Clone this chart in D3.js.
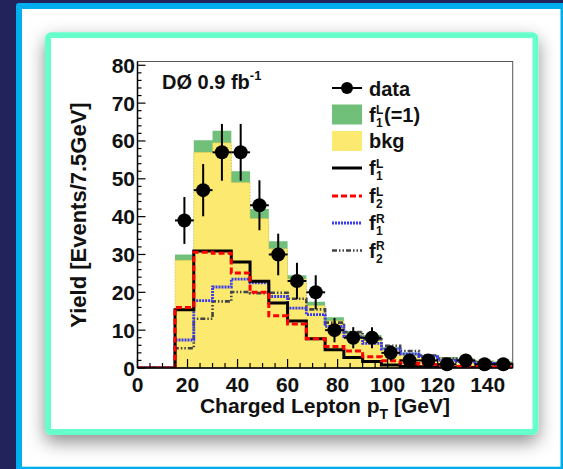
<!DOCTYPE html>
<html>
<head>
<meta charset="utf-8">
<script src="https://cdn.jsdelivr.net/npm/d3@7"></script>
<style>
  html, body { margin: 0; padding: 0; background: #23235c; }
  svg { display: block; }
  text { font-family: "Liberation Sans", Arial, Helvetica, sans-serif; font-weight: bold; fill: #111; }
</style>
</head>
<body>
<svg id="chart" width="563" height="469"></svg>
<script>
// Lower edges of the 7.5 GeV bins in charged-lepton pT
const binLow = [0, 7.5, 15, 22.5, 30, 37.5, 45, 52.5, 60, 67.5, 75, 82.5, 90, 97.5, 105, 112.5, 120, 127.5, 135, 142.5];
const binHigh = 150;

// Stacked expectation: background plus f1L(=1) signal
const bkg    = [0, 0, 28.5, 57, 59.5, 49, 39.5, 31.5, 23.5, 16.5, 12.5, 9, 8, 5, 3.6, 3.2, 2.6, 2.2, 1.8, 1.5];
const sigF1L = [0, 0, 1.5, 3.2, 3.2, 3, 2.5, 2, 1, 1, 0.9, 0.8, 0.7, 0.5, 0.4, 0.3, 0.3, 0.3, 0.2, 0.2];

// Signal templates for the four couplings
const f1L = [0, 0, 15.4, 30.9, 30.9, 28.0, 22.9, 17.2, 12.4, 7.7, 4.8, 2.8, 1.7, 0.8, 0.4, 0.3, 0.2, 0.1, 0.1, 0.1];
const f2L = [0, 0, 16.0, 30.6, 30.3, 25.1, 20.0, 13.8, 11.6, 7.7, 5.7, 4.5, 3.0, 1.9, 1.2, 0.9, 0.6, 0.4, 0.3, 0.2];
const f1R = [0, 0, 7.4, 17.8, 21.4, 23.5, 22.5, 18.9, 15.8, 14.1, 11.0, 8.3, 6.5, 5.0, 3.7, 3.0, 2.1, 1.7, 1.2, 0.9];
const f2R = [0, 0, 5.2, 13.0, 17.6, 20.1, 19.8, 19.9, 18.3, 15.5, 12.0, 9.5, 7.6, 5.9, 4.5, 3.3, 2.5, 2.0, 1.5, 1.2];

// Observed events (bin centres, counts, statistical errors)
const dataX   = [18.75, 26.25, 33.75, 41.25, 48.75, 56.25, 63.75, 71.25, 78.75, 86.25, 93.75, 101.25, 108.75, 116.25, 123.75, 131.25, 138.75, 146.25];
const dataY   = [39, 47, 57, 57, 43, 30, 23, 20, 10, 8, 8, 4, 2, 2, 1, 2, 1, 1];
const dataErr = [6.2, 6.9, 7.5, 7.5, 6.6, 5.5, 4.8, 4.5, 3.2, 2.8, 2.8, 2.0, 1.4, 1.4, 1.0, 1.4, 1.0, 1.0];
const dataHalfWidth = 3.75;

const xTicks = [0, 20, 40, 60, 80, 100, 120, 140];
const yTicks = [0, 10, 20, 30, 40, 50, 60, 70, 80];

const svg = d3.select("#chart");

// ---- page frame ----
const defs = svg.append("defs");
const sh = defs.append("filter").attr("id", "shadow")
  .attr("x", "-20%").attr("y", "-20%").attr("width", "140%").attr("height", "140%");
sh.append("feDropShadow").attr("dx", 0).attr("dy", 7).attr("stdDeviation", 9)
  .attr("flood-color", "#000").attr("flood-opacity", 0.45);

svg.append("rect").attr("width", 563).attr("height", 469).attr("fill", "#23235c");
svg.append("rect").attr("x", 16).attr("y", 3).attr("width", 560).attr("height", 480)
  .attr("rx", 3).attr("fill", "#00adee");
svg.append("rect").attr("x", 22).attr("y", 9).attr("width", 538.5).attr("height", 457.7)
  .attr("fill", "#ffffff");
svg.append("rect").attr("x", 48).attr("y", 35.3).attr("width", 487.3).attr("height", 396.7)
  .attr("rx", 3).attr("fill", "#ffffff").attr("stroke", "#66ffcc").attr("stroke-width", 6)
  .attr("filter", "url(#shadow)");
svg.append("rect").attr("x", 51).attr("y", 38.3).attr("width", 481.3).attr("height", 390.7)
  .attr("fill", "#ffffff");

// ---- scales ----
const x = d3.scaleLinear().domain([0, 150]).range([137.5, 512.7]);
const y = d3.scaleLinear().domain([0, 81]).range([368, 61.5]);

const g = svg.append("g");
g.append("defs").append("clipPath").attr("id", "plotClip")
  .append("rect").attr("x", x(0)).attr("y", y(81)).attr("width", x(150) - x(0)).attr("height", y(0) - y(81));

// step points: each bin's low edge plus a closing point at the upper edge
function steps(vals) {
  const pts = binLow.map((lo, i) => [lo, vals[i]]);
  pts.push([binHigh, vals[vals.length - 1]]);
  return pts;
}
const stepLine = d3.line().x(d => x(d[0])).y(d => y(d[1])).curve(d3.curveStepAfter);
const stepArea = d3.area().x(d => x(d[0])).y0(y(0)).y1(d => y(d[1])).curve(d3.curveStepAfter);

const plot = g.append("g").attr("clip-path", "url(#plotClip)");

const total = bkg.map((b, i) => b + sigF1L[i]);
plot.append("path").attr("d", stepArea(steps(total))).attr("fill", "#70c07a");
plot.append("path").attr("d", stepArea(steps(bkg))).attr("fill", "#fce96f");
plot.append("path").attr("d", stepLine(steps(bkg))).attr("fill", "none")
  .attr("stroke", "#d8b94a").attr("stroke-width", 1).attr("stroke-dasharray", "1,2");

const templates = [
  { vals: f2R, color: "#444444", dash: "5,2,1.5,2,1.5,2", width: 2.6 },
  { vals: f1R, color: "#3a3aee", dash: "2,1", width: 2.8 },
  { vals: f1L, color: "#000000", dash: null, width: 3 },
  { vals: f2L, color: "#ff0000", dash: "6,3", width: 3 }
];
templates.forEach(t => {
  plot.append("path").attr("d", stepLine(steps(t.vals))).attr("fill", "none")
    .attr("stroke", t.color).attr("stroke-width", t.width)
    .attr("stroke-dasharray", t.dash);
});

// ---- axes (ticks inside the frame) ----
const ax = g.append("g").attr("stroke", "#000");
ax.append("rect").attr("x", x(0)).attr("y", y(81)).attr("width", x(150) - x(0)).attr("height", y(0) - y(81))
  .attr("fill", "none").attr("stroke", "#555").attr("stroke-width", 1);
ax.append("line").attr("x1", x(0)).attr("x2", x(150)).attr("y1", y(0)).attr("y2", y(0)).attr("stroke-width", 1.5);
ax.append("line").attr("x1", x(0)).attr("x2", x(0)).attr("y1", y(0)).attr("y2", y(81)).attr("stroke-width", 1.5);

d3.range(0, 151, 5).forEach(v => {
  const major = v % 20 === 0;
  ax.append("line").attr("x1", x(v)).attr("x2", x(v))
    .attr("y1", y(0)).attr("y2", y(0) - (major ? 9 : 5)).attr("stroke-width", 1.2);
});
d3.range(0, 81, 2).forEach(v => {
  const major = v % 10 === 0;
  ax.append("line").attr("x1", x(0)).attr("x2", x(0) + (major ? 8 : 4))
    .attr("y1", y(v)).attr("y2", y(v)).attr("stroke-width", 1.2);
});

g.selectAll(".xt").data(xTicks).join("text").attr("class", "xt")
  .attr("x", d => x(d)).attr("y", 392).attr("text-anchor", "middle")
  .attr("font-size", 21).text(d => d);
g.selectAll(".yt").data(yTicks).join("text").attr("class", "yt")
  .attr("x", 135).attr("y", d => y(d) + 7.5).attr("text-anchor", "end")
  .attr("font-size", 21).text(d => d);

// axis titles
const xt = g.append("text").attr("x", 450).attr("y", 413).attr("text-anchor", "end").attr("font-size", 21);
xt.append("tspan").text("Charged Lepton p");
xt.append("tspan").attr("font-size", 14).attr("dy", 6).text("T");
xt.append("tspan").attr("dy", -6).text(" [GeV]");

g.append("text").attr("transform", "translate(86,215) rotate(-90)").attr("text-anchor", "middle")
  .attr("font-size", 22).text("Yield [Events/7.5GeV]");

// experiment label
const lab = g.append("text").attr("x", 162).attr("y", 89).attr("font-size", 20);
lab.append("tspan").text("DØ 0.9 fb");
lab.append("tspan").attr("font-size", 13).attr("dy", -9).text("-1");

// ---- data points ----
const pts = g.append("g");
dataX.forEach((xv, i) => {
  const yv = dataY[i], e = dataErr[i];
  pts.append("line").attr("x1", x(xv)).attr("x2", x(xv)).attr("y1", y(yv - e)).attr("y2", y(yv + e))
    .attr("stroke", "#000").attr("stroke-width", 2);
  pts.append("line").attr("x1", x(xv - dataHalfWidth)).attr("x2", x(xv + dataHalfWidth)).attr("y1", y(yv)).attr("y2", y(yv))
    .attr("stroke", "#000").attr("stroke-width", 2);
  pts.append("circle").attr("cx", x(xv)).attr("cy", y(yv)).attr("r", 7).attr("fill", "#000");
});

// ---- legend ----
const lg = g.append("g");
const lx0 = 332, lx1 = 362, tx = 369;
const rows = [88, 114.5, 141, 168, 196, 223, 250.5];

lg.append("line").attr("x1", lx0).attr("x2", lx1).attr("y1", rows[0]).attr("y2", rows[0]).attr("stroke", "#000").attr("stroke-width", 2);
lg.append("circle").attr("cx", (lx0 + lx1) / 2).attr("cy", rows[0]).attr("r", 6).attr("fill", "#000");
lg.append("text").attr("x", tx).attr("y", rows[0] + 8).attr("font-size", 20).text("data");

lg.append("rect").attr("x", lx0).attr("y", rows[1] - 10).attr("width", lx1 - lx0).attr("height", 20).attr("fill", "#70c07a");
lg.append("rect").attr("x", lx0).attr("y", rows[2] - 10).attr("width", lx1 - lx0).attr("height", 20).attr("fill", "#fce96f");
lg.append("text").attr("x", tx).attr("y", rows[2] + 7).attr("font-size", 20).text("bkg");

// "f" with a stacked superscript and subscript, as one text element
function fLabel(yc, sup, sub, tail) {
  const t = lg.append("text").attr("x", tx).attr("y", yc + 7).attr("font-size", 20);
  t.append("tspan").text("f");
  t.append("tspan").attr("x", tx + 7).attr("y", yc - 0.5).attr("font-size", 12).text(sup);
  t.append("tspan").attr("x", tx + 7).attr("y", yc + 12).attr("font-size", 12).text(sub);
  if (tail) t.append("tspan").attr("x", tx + 15).attr("y", yc + 7).text(tail);
}
fLabel(rows[1], "L", "1", "(=1)");
fLabel(rows[3], "L", "1");
fLabel(rows[4], "L", "2");
fLabel(rows[5], "R", "1");
fLabel(rows[6], "R", "2");

const legLines = [
  { row: rows[3], t: templates[2] },
  { row: rows[4], t: templates[3] },
  { row: rows[5], t: templates[1] },
  { row: rows[6], t: templates[0] }
];
legLines.forEach(d => {
  lg.append("line").attr("x1", lx0).attr("x2", lx1).attr("y1", d.row).attr("y2", d.row)
    .attr("stroke", d.t.color).attr("stroke-width", d.t.width).attr("stroke-dasharray", d.t.dash);
});
</script>
</body>
</html>
